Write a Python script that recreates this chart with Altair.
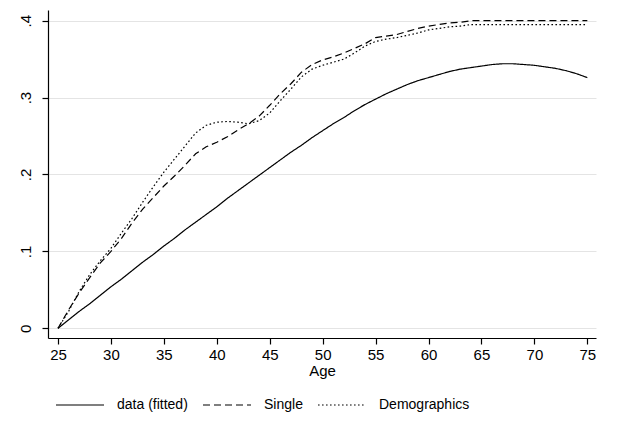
import altair as alt
import pandas as pd

ages = list(range(25, 76))

fitted = [0.000, 0.011, 0.022, 0.032, 0.043, 0.054, 0.064, 0.075, 0.086, 0.096,
          0.107, 0.117, 0.128, 0.138, 0.148, 0.158, 0.169, 0.179, 0.189, 0.199,
          0.209, 0.219, 0.229, 0.238, 0.248, 0.257, 0.266, 0.274, 0.283, 0.291,
          0.298, 0.305, 0.311, 0.317, 0.322, 0.326, 0.330, 0.334, 0.337, 0.339,
          0.341, 0.343, 0.344, 0.344, 0.343, 0.342, 0.340, 0.338, 0.335, 0.331,
          0.326]

single = [0.000, 0.024, 0.046, 0.066, 0.085, 0.100, 0.117, 0.137, 0.155, 0.170,
          0.185, 0.198, 0.212, 0.227, 0.236, 0.242, 0.249, 0.258, 0.266, 0.276,
          0.290, 0.305, 0.318, 0.333, 0.343, 0.349, 0.353, 0.358, 0.364, 0.370,
          0.378, 0.380, 0.382, 0.386, 0.390, 0.393, 0.395, 0.397, 0.398, 0.400,
          0.400, 0.400, 0.400, 0.400, 0.400, 0.400, 0.400, 0.400, 0.400, 0.400,
          0.400]

demographics = [0.000, 0.022, 0.048, 0.070, 0.088, 0.104, 0.124, 0.143, 0.164, 0.184,
                0.203, 0.220, 0.237, 0.254, 0.264, 0.268, 0.269, 0.268, 0.266, 0.270,
                0.280, 0.296, 0.311, 0.327, 0.337, 0.342, 0.346, 0.350, 0.358, 0.367,
                0.373, 0.376, 0.378, 0.381, 0.384, 0.388, 0.390, 0.392, 0.393, 0.395,
                0.395, 0.395, 0.395, 0.395, 0.395, 0.395, 0.395, 0.395, 0.395, 0.395,
                0.395]

series_names = ["data (fitted)", "Single", "Demographics"]
x_ticks = [25, 30, 35, 40, 45, 50, 55, 60, 65, 70, 75]
y_ticks = [0, 0.1, 0.2, 0.3, 0.4]

rows = []
for name, vals in zip(series_names, [fitted, single, demographics]):
    for a, v in zip(ages, vals):
        rows.append({"Age": a, "value": v, "series": name})
df = pd.DataFrame(rows)

FONT = "Liberation Sans, Arial, sans-serif"

chart = alt.Chart(df).mark_line(strokeWidth=1.2, color="black").encode(
    x=alt.X("Age:Q",
            scale=alt.Scale(domain=[24.055, 75.82], nice=False, zero=False),
            axis=alt.Axis(values=x_ticks, title="Age", grid=False,
                          tickSize=6, labelPadding=3, titlePadding=1,
                          labelFlush=False)),
    y=alt.Y("value:Q",
            scale=alt.Scale(domain=[-0.0126, 0.4139], nice=False, zero=False),
            axis=alt.Axis(values=y_ticks, title=None, grid=True,
                          tickSize=6, labelAngle=270, labelAlign="center",
                          labelBaseline="bottom", labelPadding=9,
                          labelExpr="datum.value == 0 ? '0' : replace(format(datum.value, '.1f'), '0.', '.')")),
    strokeDash=alt.StrokeDash("series:N",
            scale=alt.Scale(domain=series_names,
                            range=[[1, 0], [7, 4], [1.6, 2.4]]),
            legend=alt.Legend(title=None, orient="none", direction="horizontal",
                              legendX=7, legendY=370, symbolType="stroke",
                              symbolSize=2304, symbolStrokeWidth=1.2,
                              symbolStrokeColor="black",
                              labelOffset=12, columnPadding=12,
                              labelFontSize=14, labelFont=FONT,
                              labelColor="black")),
    detail="series:N",
).properties(
    width=548,
    height=328,
    padding={"left": 48, "top": 10, "right": 22, "bottom": 94},
    autosize=alt.AutoSizeParams(type="none"),
).configure_view(
    stroke=None
).configure_axis(
    domainColor="black",
    tickColor="black",
    gridColor="#e4e4e4",
    labelColor="black",
    titleColor="black",
    labelFont=FONT,
    titleFont=FONT,
    labelFontSize=15,
    titleFontSize=15,
    titleFontWeight="normal",
    domainWidth=1.2,
    tickWidth=1.2,
)

chart.save("out.html", embed_options={"renderer": "svg", "actions": False})
